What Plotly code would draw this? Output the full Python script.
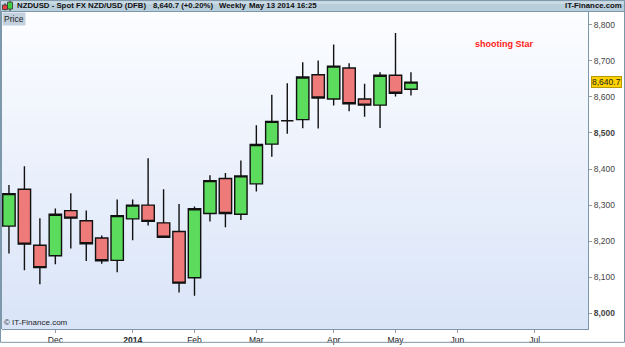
import plotly.graph_objects as go
import pandas as pd

# ---- data (weekly bars, NZD/USD x10000) ----
weeks = [d.strftime("%Y-%m-%d") for d in pd.date_range("2013-11-10", periods=27, freq="7D")]
opens  = [8242, 8344, 8189, 8160, 8285, 8257, 8209, 8147, 8262, 8300, 8251, 8227, 8099,
          8277, 8374, 8275, 8359, 8469, 8534, 8537, 8661, 8594, 8680, 8594, 8577, 8660, 8621]
highs  = [8356, 8408, 8264, 8291, 8333, 8285, 8216, 8316, 8316, 8430, 8344, 8303, 8296,
          8383, 8389, 8424, 8521, 8606, 8638, 8696, 8701, 8745, 8693, 8636, 8668, 8777, 8668]
lows   = [8166, 8120, 8081, 8136, 8180, 8145, 8138, 8114, 8203, 8244, 8209, 8058, 8049,
          8255, 8239, 8259, 8338, 8434, 8498, 8513, 8512, 8576, 8560, 8545, 8514, 8601, 8604]
closes = [8332, 8192, 8127, 8275, 8264, 8193, 8146, 8271, 8300, 8255, 8211, 8084, 8290,
          8368, 8277, 8381, 8468, 8532, 8534, 8655, 8597, 8685, 8581, 8577, 8660, 8610, 8640.7]

ytick_vals = [8000, 8100, 8200, 8300, 8400, 8500, 8600, 8700, 8800]
ytick_text = ["<b>8,000</b>", "8,100", "8,200", "8,300", "8,400", "<b>8,500</b>", "8,600", "8,700", "8,800"]
xtick_vals = ["2013-12-01", "2014-01-05", "2014-02-02", "2014-03-02", "2014-04-06",
              "2014-05-04", "2014-06-01", "2014-07-06"]
xtick_text = ["Dec", "<b>2014</b>", "Feb", "Mar", "Apr", "May", "Jun", "Jul"]
last_price = 8640.7
annotation_text = "shooting Star"
annotation_date = "2014-06-22"
annotation_price = 8745

# ---- ranges ----
t0 = pd.Timestamp(weeks[0])
x_start = t0 - pd.Timedelta(days=3.15)
x_end = t0 + pd.Timedelta(days=262.15)
y_lo, y_hi = 7957, 8835

FONT = "Liberation Sans, Arial, sans-serif"

fig = go.Figure()

# gradient plot background (heatmap layer sits below candlesticks)
fig.add_trace(go.Heatmap(
    x=[x_start, x_end], y=[y_lo, y_hi], z=[[0, 0], [1, 1]],
    colorscale=[[0, "#d9e4f8"], [1, "#fcfdff"]], zsmooth="best",
    showscale=False, hoverinfo="skip",
))

fig.add_trace(go.Candlestick(
    x=weeks, open=opens, high=highs, low=lows, close=closes,
    increasing=dict(line=dict(color="#111111", width=1.4), fillcolor="#5cdc5c"),
    decreasing=dict(line=dict(color="#111111", width=1.4), fillcolor="#ee7a7a"),
    whiskerwidth=0, showlegend=False, hoverinfo="skip",
))

W, H = 625, 347
ml, mr, mt, mb = 2, 37, 12, 14
pw, ph = W - ml - mr, H - mt - mb

def px(xp):  # figure pixel x -> paper
    return (xp - ml) / pw

def py(yp):  # figure pixel y (from top) -> paper
    return (H - mb - yp) / ph

shapes = []
# outer border
shapes.append(dict(type="rect", xref="paper", yref="paper",
                   x0=px(0.5), x1=px(W - 0.5), y0=py(H - 0.5), y1=py(0.5),
                   line=dict(color="#7d98ab", width=1), fillcolor="rgba(0,0,0,0)", layer="above"))
# header bar
shapes.append(dict(type="rect", xref="paper", yref="paper",
                   x0=px(0.5), x1=px(W - 0.5), y0=py(11.5), y1=py(0.5),
                   line=dict(color="#7d98ab", width=1), fillcolor="#b9cedb", layer="above"))
shapes.append(dict(type="rect", xref="paper", yref="paper",
                   x0=px(1), x1=px(W - 1), y0=py(4), y1=py(1),
                   line=dict(width=0), fillcolor="#cadbe6", layer="above"))
# header icon: small red and green candles
shapes.append(dict(type="line", xref="paper", yref="paper",
                   x0=px(5), x1=px(5), y0=py(10.5), y1=py(3),
                   line=dict(color="#333", width=1), layer="above"))
shapes.append(dict(type="rect", xref="paper", yref="paper",
                   x0=px(2.5), x1=px(7.5), y0=py(9.5), y1=py(5),
                   line=dict(color="#333", width=0.8), fillcolor="#e84040", layer="above"))
shapes.append(dict(type="line", xref="paper", yref="paper",
                   x0=px(10), x1=px(10), y0=py(11), y1=py(0.5),
                   line=dict(color="#333", width=1), layer="above"))
shapes.append(dict(type="rect", xref="paper", yref="paper",
                   x0=px(7.5), x1=px(12.5), y0=py(9), y1=py(2),
                   line=dict(color="#333", width=0.8), fillcolor="#3fcf3f", layer="above"))
# left border of plot
shapes.append(dict(type="line", xref="paper", yref="paper",
                   x0=px(1.5), x1=px(1.5), y0=0, y1=1,
                   line=dict(color="#7d98ab", width=1), layer="above"))

annotations = []
hdr_font = dict(family=FONT, size=7.8, color="#111111")
for txt, xp in [("<b>NZDUSD - Spot FX NZD/USD (DFB)</b>", 16),
                ("<b>8,640.7 (+0.20%)</b>", 152),
                ("<b>Weekly</b>", 218),
                ("<b>May 13 2014 16:25</b>", 248)]:
    annotations.append(dict(xref="paper", yref="paper", x=px(xp), y=py(5.8),
                            xanchor="left", yanchor="middle", text=txt,
                            showarrow=False, font=hdr_font, borderpad=0))
annotations.append(dict(xref="paper", yref="paper", x=px(W - 2), y=py(5.8),
                        xanchor="right", yanchor="middle", text="<b>IT-Finance.com</b>",
                        showarrow=False, font=hdr_font, borderpad=0))
annotations.append(dict(xref="paper", yref="paper", x=0, y=1, xanchor="left", yanchor="top",
                        text="Price", showarrow=False, bgcolor="#c3d1de",
                        font=dict(family=FONT, size=8.5, color="#222"), borderpad=1))
annotations.append(dict(xref="paper", yref="paper", x=0, y=0, xanchor="left", yanchor="bottom",
                        text="© IT-Finance.com", showarrow=False,
                        font=dict(family=FONT, size=8, color="#222"), borderpad=1))
annotations.append(dict(xref="x", yref="y", x=annotation_date, y=annotation_price,
                        text="<b>" + annotation_text + "</b>", showarrow=False,
                        font=dict(family=FONT, size=9, color="#ff2020")))
annotations.append(dict(xref="paper", yref="y", x=1, y=last_price, xanchor="left",
                        yanchor="middle", xshift=3, text="8,640.7", showarrow=False,
                        bgcolor="#ffd200", bordercolor="#b89a00", borderwidth=1, borderpad=0,
                        font=dict(family=FONT, size=8.5, color="#222")))

fig.update_layout(
    width=W, height=H,
    margin=dict(l=ml, r=mr, t=mt, b=mb),
    paper_bgcolor="white", plot_bgcolor="white",
    showlegend=False,
    boxgap=0.2, boxgroupgap=0,
    shapes=shapes, annotations=annotations,
    xaxis=dict(type="date", range=[x_start, x_end], rangeslider=dict(visible=False),
               showgrid=False, zeroline=False, showline=True, linecolor="#7d98ab", linewidth=1,
               ticks="outside", ticklen=3, tickcolor="#999",
               tickvals=xtick_vals, ticktext=xtick_text,
               tickfont=dict(family=FONT, size=8.5, color="#222")),
    yaxis=dict(range=[y_lo, y_hi], side="right", showgrid=False, zeroline=False,
               showline=True, linecolor="#7d98ab", linewidth=1,
               ticks="outside", ticklen=3, tickcolor="#999",
               tickvals=ytick_vals, ticktext=ytick_text,
               tickfont=dict(family=FONT, size=8.5, color="#444")),
)

fig.write_html("out.html")
